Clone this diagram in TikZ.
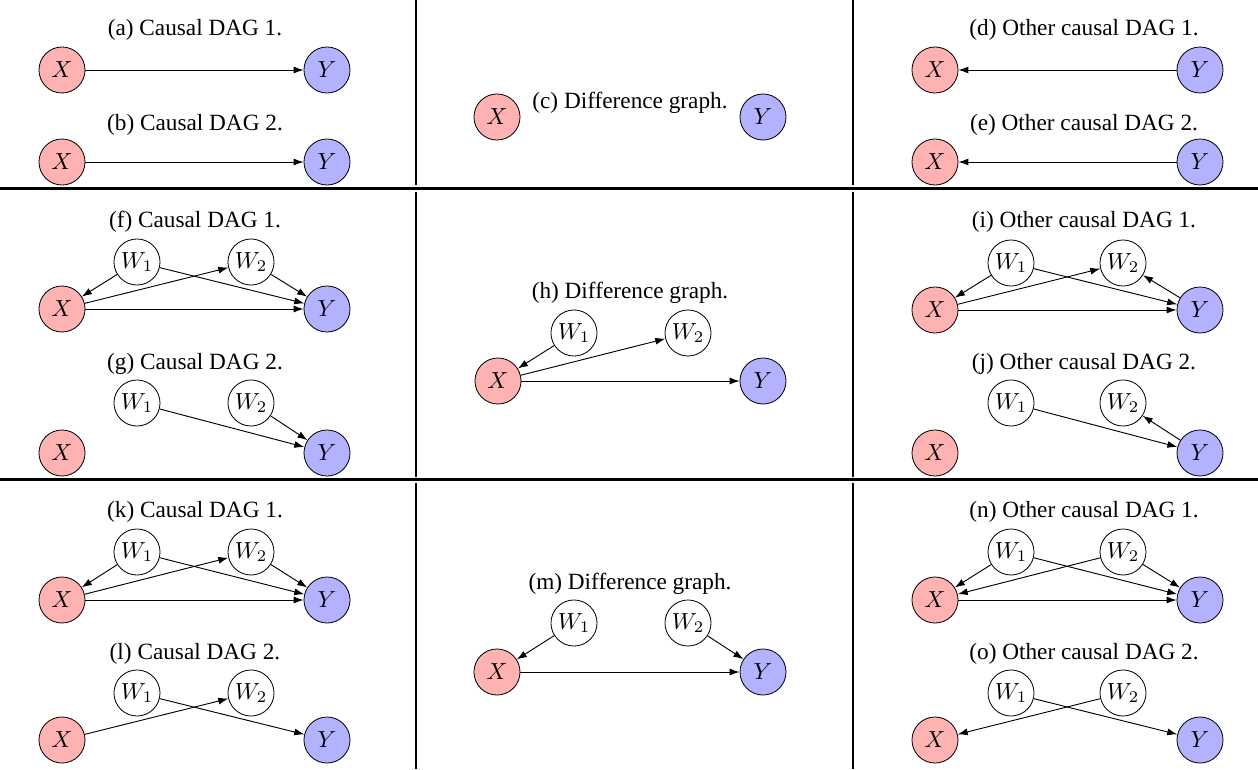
\documentclass[tikz,border=0pt]{standalone}
\usepackage{fontspec}
\setmainfont{Liberation Serif}
\usetikzlibrary{arrows.meta}
\tikzset{
  vx/.style={circle,draw,line width=0.35pt,minimum size=19.8pt,inner sep=0pt,font=\fontsize{10}{12}\selectfont},
  xn/.style={vx,fill=red!30},
  yn/.style={vx,fill=blue!30},
  wn/.style={vx,fill=white},
  ttl/.style={font=\fontsize{10}{12}\selectfont,inner sep=0pt,anchor=base},
  ed/.style={line width=0.4pt,-{Latex[length=4.3pt,width=3pt]}},
  rule/.style={line width=0.95pt}
}
\begin{document}
\begin{tikzpicture}[x=0.43pt,y=-0.43pt]
\useasboundingbox (0,0) rectangle (1258,769);
% dividers
\draw[rule] (0,188.5) -- (1258,188.5);
\draw[rule] (0,479.5) -- (1258,479.5);
\draw[rule] (416,0) -- (416,185);
\draw[rule] (416,192) -- (416,476.5);
\draw[rule] (416,482.5) -- (416,769);
\draw[rule] (853,0) -- (853,185);
\draw[rule] (853,192) -- (853,476.5);
\draw[rule] (853,482.5) -- (853,769);

% (a)
\node[ttl] (ta) at (195,35) {(a) Causal DAG 1.};
\node[xn] (aX) at (62,70) {$X$};
\node[yn] (aY) at (327,70) {$Y$};
\draw[ed] (aX) -- (aY);
% (b)
\node[ttl] (tb) at (195,130) {(b) Causal DAG 2.};
\node[xn] (bX) at (62,162) {$X$};
\node[yn] (bY) at (327,162) {$Y$};
\draw[ed] (bX) -- (bY);
% (c)
\node[ttl] (tc) at (630,108) {(c) Difference graph.};
\node[xn] (cX) at (497,117) {$X$};
\node[yn] (cY) at (763,117) {$Y$};
% (d)
\node[ttl] (td) at (1084,35) {(d) Other causal DAG 1.};
\node[xn] (dX) at (935,70) {$X$};
\node[yn] (dY) at (1200,70) {$Y$};
\draw[ed] (dY) -- (dX);
% (e)
\node[ttl] (te) at (1084,130) {(e) Other causal DAG 2.};
\node[xn] (eX) at (935,162) {$X$};
\node[yn] (eY) at (1200,162) {$Y$};
\draw[ed] (eY) -- (eX);

% (f)
\node[ttl] (tf) at (195,227) {(f) Causal DAG 1.};
\node[wn] (fW1) at (137,262) {$W_1$};
\node[wn] (fW2) at (251,262) {$W_2$};
\node[xn] (fX) at (62,309) {$X$};
\node[yn] (fY) at (327,309) {$Y$};
\draw[ed] (fW1) -- (fX);
\draw[ed] (fW1) -- (fY);
\draw[ed] (fX) -- (fW2);
\draw[ed] (fW2) -- (fY);
\draw[ed] (fX) -- (fY);
% (g)
\node[ttl] (tg) at (195,369) {(g) Causal DAG 2.};
\node[wn] (gW1) at (137,403) {$W_1$};
\node[wn] (gW2) at (251,403) {$W_2$};
\node[xn] (gX) at (62,453) {$X$};
\node[yn] (gY) at (327,453) {$Y$};
\draw[ed] (gW1) -- (gY);
\draw[ed] (gW2) -- (gY);
% (h)
\node[ttl] (th) at (630,298) {(h) Difference graph.};
\node[wn] (hW1) at (574,333) {$W_1$};
\node[wn] (hW2) at (688,333) {$W_2$};
\node[xn] (hX) at (498,381) {$X$};
\node[yn] (hY) at (763,381) {$Y$};
\draw[ed] (hW1) -- (hX);
\draw[ed] (hX) -- (hW2);
\draw[ed] (hX) -- (hY);
% (i)
\node[ttl] (ti) at (1084,227) {(i) Other causal DAG 1.};
\node[wn] (iW1) at (1011,263) {$W_1$};
\node[wn] (iW2) at (1123,263) {$W_2$};
\node[xn] (iX) at (935,310) {$X$};
\node[yn] (iY) at (1200,310) {$Y$};
\draw[ed] (iW1) -- (iX);
\draw[ed] (iW1) -- (iY);
\draw[ed] (iX) -- (iW2);
\draw[ed] (iY) -- (iW2);
\draw[ed] (iX) -- (iY);
% (j)
\node[ttl] (tj) at (1084,369) {(j) Other causal DAG 2.};
\node[wn] (jW1) at (1011,403) {$W_1$};
\node[wn] (jW2) at (1123,403) {$W_2$};
\node[xn] (jX) at (935,453) {$X$};
\node[yn] (jY) at (1200,453) {$Y$};
\draw[ed] (jW1) -- (jY);
\draw[ed] (jY) -- (jW2);

% (k)
\node[ttl] (tk) at (195,517) {(k) Causal DAG 1.};
\node[wn] (kW1) at (137,552) {$W_1$};
\node[wn] (kW2) at (251,552) {$W_2$};
\node[xn] (kX) at (62,600) {$X$};
\node[yn] (kY) at (327,600) {$Y$};
\draw[ed] (kW1) -- (kX);
\draw[ed] (kW1) -- (kY);
\draw[ed] (kX) -- (kW2);
\draw[ed] (kW2) -- (kY);
\draw[ed] (kX) -- (kY);
% (l)
\node[ttl] (tl) at (195,659) {(l) Causal DAG 2.};
\node[wn] (lW1) at (137,693) {$W_1$};
\node[wn] (lW2) at (251,693) {$W_2$};
\node[xn] (lX) at (62,740) {$X$};
\node[yn] (lY) at (327,740) {$Y$};
\draw[ed] (lX) -- (lW2);
\draw[ed] (lW1) -- (lY);
% (m)
\node[ttl] (tm) at (630,589) {(m) Difference graph.};
\node[wn] (mW1) at (574,623) {$W_1$};
\node[wn] (mW2) at (688,623) {$W_2$};
\node[xn] (mX) at (497,672) {$X$};
\node[yn] (mY) at (763,672) {$Y$};
\draw[ed] (mW1) -- (mX);
\draw[ed] (mW2) -- (mY);
\draw[ed] (mX) -- (mY);
% (n)
\node[ttl] (tn) at (1084,517) {(n) Other causal DAG 1.};
\node[wn] (nW1) at (1011,552) {$W_1$};
\node[wn] (nW2) at (1123,552) {$W_2$};
\node[xn] (nX) at (935,600) {$X$};
\node[yn] (nY) at (1200,600) {$Y$};
\draw[ed] (nW1) -- (nX);
\draw[ed] (nW1) -- (nY);
\draw[ed] (nW2) -- (nX);
\draw[ed] (nW2) -- (nY);
\draw[ed] (nX) -- (nY);
% (o)
\node[ttl] (to) at (1084,659) {(o) Other causal DAG 2.};
\node[wn] (oW1) at (1011,693) {$W_1$};
\node[wn] (oW2) at (1123,693) {$W_2$};
\node[xn] (oX) at (935,740) {$X$};
\node[yn] (oY) at (1200,740) {$Y$};
\draw[ed] (oW2) -- (oX);
\draw[ed] (oW1) -- (oY);
\end{tikzpicture}
\end{document}
